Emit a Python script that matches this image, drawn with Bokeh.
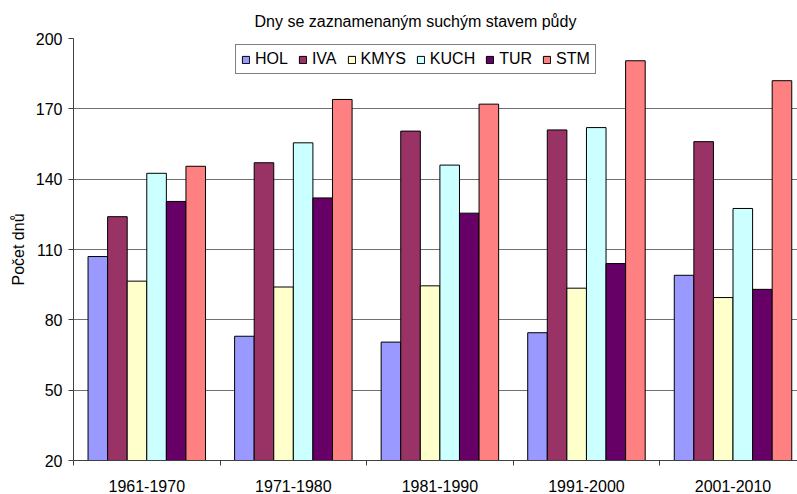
from bokeh.plotting import figure
from bokeh.models import Range1d, FixedTicker, ColumnDataSource, Legend, LegendItem
from bokeh.transform import dodge
from bokeh.embed import file_html
from bokeh.resources import INLINE

categories = ["1961-1970", "1971-1980", "1981-1990", "1991-2000", "2001-2010"]
series_names = ["HOL", "IVA", "KMYS", "KUCH", "TUR", "STM"]
HOL = [107, 73, 70.5, 74.5, 99]
IVA = [124, 147, 160.5, 161, 156]
KMYS = [96.5, 94, 94.5, 93.5, 89.5]
KUCH = [142.5, 155.5, 146, 162, 127.5]
TUR = [130.5, 132, 125.5, 104, 93]
STM = [145.5, 174, 172, 190.5, 182]
y_ticks = [20, 50, 80, 110, 140, 170, 200]
colors = ["#9999FF", "#993366", "#FFFFCC", "#CCFFFF", "#660066", "#FF8080"]

series = [HOL, IVA, KMYS, KUCH, TUR, STM]
x_centers = [i + 0.5 for i in range(len(categories))]
data = {"x": x_centers}
for n, s in zip(series_names, series):
    data[n] = s
src = ColumnDataSource(data)

FONT = "Liberation Sans"
p = figure(width=797, height=494, output_backend="svg", toolbar_location=None,
           x_range=Range1d(0, 4.94), y_range=Range1d(20, 200),
           min_border_left=73, min_border_right=0, min_border_top=38, min_border_bottom=33)
p.outline_line_color = None
p.background_fill_color = "white"
p.border_fill_color = "white"

bw = 0.1336
renderers = []
for k, (n, c) in enumerate(zip(series_names, colors)):
    r = p.vbar(x=dodge("x", (k - 2.5) * bw, range=p.x_range), top=n, bottom=20, width=bw,
               source=src, fill_color=c, line_color="black", line_width=1)
    renderers.append(r)

# axes
p.yaxis.ticker = FixedTicker(ticks=y_ticks)
p.yaxis.major_tick_out = 5
p.yaxis.major_tick_in = 0
p.yaxis.minor_tick_line_color = None
p.yaxis.major_label_standoff = 6
p.yaxis.axis_line_color = "#404040"
p.yaxis.major_tick_line_color = "#404040"
p.yaxis.major_label_text_font = FONT
p.yaxis.major_label_text_font_size = "16px"
p.yaxis.major_label_text_color = "black"
p.yaxis.axis_label = "Počet dnů"
p.yaxis.axis_label_text_font = FONT
p.yaxis.axis_label_text_font_size = "16px"
p.yaxis.axis_label_text_font_style = "normal"
p.yaxis.axis_label_text_color = "black"
p.yaxis.axis_label_standoff = 6

p.xaxis.ticker = FixedTicker(ticks=x_centers, minor_ticks=list(range(len(categories) + 1)))
p.xaxis.major_label_overrides = {x: c for x, c in zip(x_centers, categories)}
p.xaxis.major_tick_line_color = None
p.xaxis.major_tick_out = 0
p.xaxis.major_tick_in = 0
p.xaxis.minor_tick_out = 5
p.xaxis.minor_tick_in = 0
p.xaxis.minor_tick_line_color = "#404040"
p.xaxis.axis_line_color = "#404040"
p.xaxis.major_label_standoff = 14
p.xaxis.major_label_text_font = FONT
p.xaxis.major_label_text_font_size = "16px"
p.xaxis.major_label_text_color = "black"

p.xgrid.grid_line_color = None
p.ygrid.ticker = FixedTicker(ticks=y_ticks)
p.ygrid.grid_line_color = "#707070"
p.ygrid.grid_line_width = 1

# title
p.title.text = "Dny se zaznamenaným suchým stavem půdy"
p.title.text_font = FONT
p.title.text_font_size = "16px"
p.title.text_font_style = "normal"
p.title.text_color = "black"
p.title.align = "left"
p.title.offset = 181
p.title.standoff = 17

legend = Legend(items=[LegendItem(label=n, renderers=[r]) for n, r in zip(series_names, renderers)],
                orientation="horizontal", location=(162, 386))
legend.label_text_font = FONT
legend.label_text_font_size = "16px"
legend.label_text_color = "black"
legend.glyph_width = 9
legend.glyph_height = 9
legend.label_standoff = 5
legend.spacing = 10
legend.padding = 5
legend.margin = 0
legend.label_height = 14
legend.border_line_color = "black"
legend.border_line_width = 1
legend.background_fill_color = "white"
legend.background_fill_alpha = 1
p.add_layout(legend, "center")

open("out.html", "w").write(file_html(p, INLINE))
